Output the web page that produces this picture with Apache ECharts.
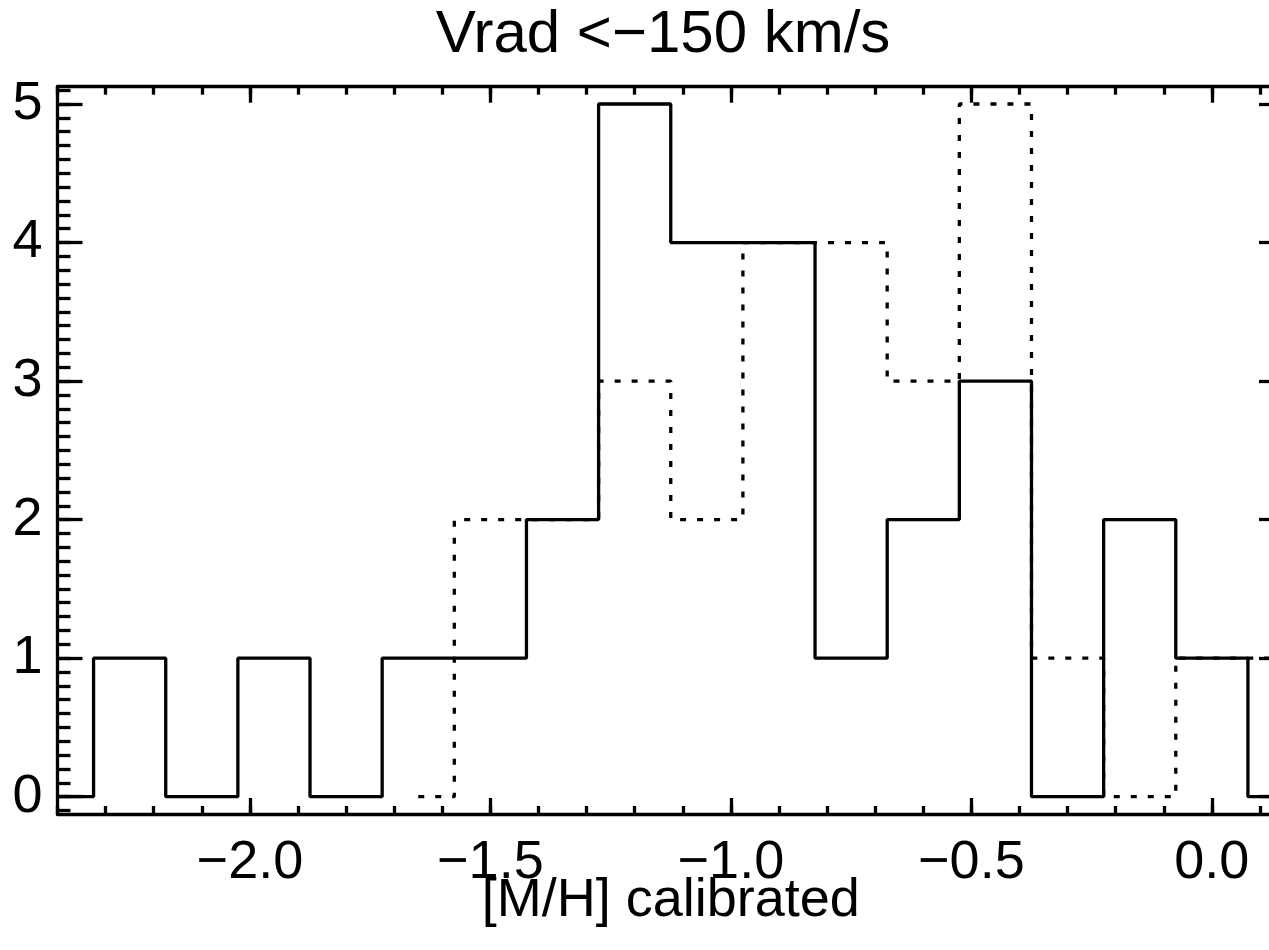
<!DOCTYPE html>
<html>
<head>
<meta charset="utf-8">
<script src="https://cdn.jsdelivr.net/npm/echarts@6/dist/echarts.min.js"></script>
<style>
  html, body { margin: 0; padding: 0; background: #ffffff; }
  #chart { width: 1269px; height: 950px; }
</style>
</head>
<body>
<div id="chart"></div>
<script>
// ---- data ----
const titleText = 'Vrad <\u2212150 km/s';
const xAxisTitle = '[M/H] calibrated';

// bin centres (width 0.15) and counts of the solid histogram
const solidCenters = [-2.40, -2.25, -2.10, -1.95, -1.80, -1.65, -1.50, -1.35, -1.20, -1.05, -0.90, -0.75, -0.60, -0.45, -0.30, -0.15, 0.00, 0.15];
const solidCounts  = [0, 1, 0, 1, 0, 1, 1, 2, 5, 4, 4, 1, 2, 3, 0, 2, 1, 0];

// bin centres and counts of the dotted histogram
const dottedCenters = [-1.65, -1.50, -1.35, -1.20, -1.05, -0.90, -0.75, -0.60, -0.45, -0.30, -0.15, 0.00, 0.15];
const dottedCounts  = [0, 2, 2, 3, 2, 4, 4, 3, 5, 1, 0, 1, 1];

// axis ticks
const xMajorTicks = [-2.0, -1.5, -1.0, -0.5, 0.0];
const xTickLabels = ['\u22122.0', '\u22121.5', '\u22121.0', '\u22120.5', '0.0'];
const yMajorTicks = [0, 1, 2, 3, 4, 5];
const yTickLabels = ['0', '1', '2', '3', '4', '5'];
const xRange = [-2.4, 0.15];
const yRange = [-0.125, 5.125];

// minor tick positions (every 0.1)
const xMinorTicks = [];
for (let i = -24; i <= 1; i++) xMinorTicks.push(Math.round(i) / 10);
const yMinorTicks = [];
for (let i = -1; i <= 51; i++) yMinorTicks.push(Math.round(i) / 10);

// ---- chart ----
const FONT = '"Liberation Sans", Arial, Helvetica, sans-serif';
const BLACK = '#000000';
const LW = 3.3;

function pairs(xs, ys) { return xs.map((x, i) => [x, ys[i]]); }

function xAxisDef(pos, major, withLabels) {
  return {
    type: 'value', position: pos, min: xRange[0], max: xRange[1],
    name: (pos === 'bottom' && major) ? xAxisTitle : '',
    nameLocation: 'middle', nameGap: 60, nameMoveOverlap: false,
    nameTextStyle: { color: BLACK, fontSize: 54, fontFamily: FONT },
    axisLine: { show: major, onZero: false, lineStyle: { color: BLACK, width: LW } },
    axisTick: { show: true, inside: true, length: major ? 16 : 8,
      customValues: major ? xMajorTicks : xMinorTicks,
      lineStyle: { color: BLACK, width: LW } },
    axisLabel: { show: withLabels, margin: 22, color: BLACK, fontSize: 54, fontFamily: FONT,
      customValues: xMajorTicks,
      formatter: v => { const k = xMajorTicks.findIndex(t => Math.abs(t - v) < 1e-9); return k >= 0 ? xTickLabels[k] : ''; } },
    splitLine: { show: false }
  };
}
function yAxisDef(pos, major, withLabels) {
  return {
    type: 'value', position: pos, min: yRange[0], max: yRange[1],
    axisLine: { show: major, onZero: false, lineStyle: { color: BLACK, width: LW } },
    axisTick: { show: true, inside: true, length: major ? 25 : 13,
      customValues: major ? yMajorTicks : yMinorTicks,
      lineStyle: { color: BLACK, width: LW } },
    axisLabel: { show: withLabels, margin: 15, color: BLACK, fontSize: 54, fontFamily: FONT,
      customValues: yMajorTicks,
      formatter: v => { const k = yMajorTicks.findIndex(t => Math.abs(t - v) < 1e-9); return k >= 0 ? yTickLabels[k] : ''; } },
    splitLine: { show: false }
  };
}

const chart = echarts.init(document.getElementById('chart'), null, { renderer: 'canvas' });
chart.setOption({
  backgroundColor: '#ffffff',
  animation: false,
  title: {
    text: titleText, left: 658, top: 0, textAlign: 'center',
    textStyle: { color: BLACK, fontSize: 60, fontWeight: 'normal', fontFamily: FONT }
  },
  grid: { left: 57.5, top: 86.7, width: 1226.5, height: 727.3, containLabel: false, outerBoundsMode: 'none', show: false },
  xAxis: [
    xAxisDef('bottom', true, true),
    xAxisDef('bottom', false, false),
    xAxisDef('top', true, false),
    xAxisDef('top', false, false)
  ],
  yAxis: [
    yAxisDef('left', true, true),
    yAxisDef('left', false, false),
    yAxisDef('right', true, false),
    yAxisDef('right', false, false)
  ],
  series: [
    {
      name: 'dotted', type: 'line', step: 'middle', showSymbol: false, symbol: 'none',
      xAxisIndex: 0, yAxisIndex: 0,
      data: pairs(dottedCenters, dottedCounts),
      lineStyle: { color: BLACK, width: LW, type: [6, 11], cap: 'butt' }
    },
    {
      name: 'solid', type: 'line', step: 'middle', showSymbol: false, symbol: 'none',
      xAxisIndex: 0, yAxisIndex: 0,
      data: pairs(solidCenters, solidCounts),
      lineStyle: { color: BLACK, width: LW, type: 'solid' }
    }
  ]
});
</script>
</body>
</html>
